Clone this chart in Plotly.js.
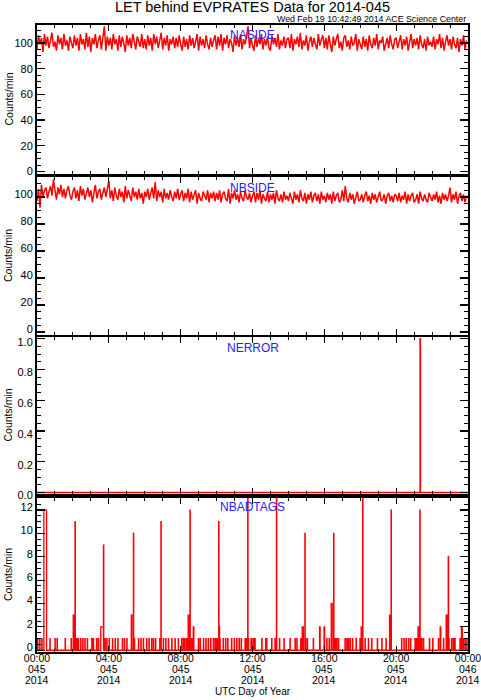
<!DOCTYPE html>
<html>
<head>
<meta charset="utf-8">
<script src="https://cdn.plot.ly/plotly-3.0.1.min.js"></script>
<style>html,body{margin:0;padding:0;background:#fff;}#chart{width:481px;height:700px;}</style>
</head>
<body>
<div id="chart"></div>
<script>
// ---- data (minutes after 00:00 UTC, DOY 045 2014) ----
const sampleStepMinutes = 5;
const nasideCounts = [
95,106,99,104,93,107,98,105,96,103,108,97,101,94,106,99,104,95,107,98,102,94,105,100,
96,106,98,104,94,107,99,103,95,108,97,105,93,104,99,107,96,102,106,95,103,113,94,105,
98,104,95,107,99,103,94,106,97,105,100,93,106,98,104,96,107,99,95,105,101,97,107,96,
103,95,106,98,104,94,107,99,105,96,102,108,95,104,98,106,94,103,99,105,96,104,97,106,
99,94,105,97,103,95,106,98,104,96,101,107,94,105,98,103,96,106,99,95,104,97,102,106,
95,105,98,107,94,104,99,106,96,103,100,93,106,98,104,97,107,95,103,99,105,113,96,104,
98,94,106,97,104,99,107,95,103,98,105,96,94,106,99,104,97,107,95,102,98,105,96,103,
104,96,107,94,103,99,105,97,108,95,102,98,106,94,101,105,97,104,99,95,107,98,103,106,
96,104,95,106,99,93,105,98,103,107,96,101,94,104,106,97,102,95,105,98,100,107,94,103,
99,95,105,97,103,94,106,99,96,104,98,107,95,102,100,105,94,98,104,96,106,99,95,103,
104,96,101,106,95,103,98,105,94,100,107,96,103,98,104,95,106,99,96,103,94,105,98,101,
97,105,95,103,99,107,96,104,94,101,106,98,103,95,105,99,96,104,93,103,98,106,95,102
];
const nbsideCounts = [
97,106,92,109,100,105,107,99,104,108,101,113,105,98,107,102,109,100,106,99,105,108,101,98,
104,107,99,105,97,108,101,106,98,104,107,100,105,96,103,109,99,104,106,98,103,107,100,105,
112,99,105,97,107,101,98,106,100,104,96,108,99,105,101,97,107,100,104,98,106,99,103,95,
104,100,106,98,103,107,99,111,97,105,100,104,96,106,99,103,98,105,100,97,104,99,106,98,
102,105,97,103,99,106,96,104,98,102,105,95,103,99,97,104,100,98,105,96,103,99,104,97,
103,98,105,96,102,104,99,97,106,95,103,99,105,98,102,96,104,99,97,105,100,98,103,96,
101,104,96,103,98,105,95,102,99,97,104,96,102,98,103,95,105,99,97,102,96,104,98,101,
97,103,99,95,104,98,102,96,105,99,97,103,95,102,98,104,96,101,103,97,102,95,104,98,
101,96,103,98,102,95,104,97,101,103,96,98,105,97,108,99,96,103,98,102,95,101,104,97,
98,102,96,101,104,97,101,95,103,98,102,96,101,104,97,98,102,95,101,103,97,101,96,102,
101,97,103,96,101,98,104,95,102,97,101,103,96,98,102,95,104,99,97,102,98,96,103,99,
97,102,98,104,96,101,95,103,98,102,97,101,107,96,102,98,104,95,101,103,97,102,96,101
];
// NERROR: step changes (minute, level)
const errorTimes  = [0, 1280, 1281, 1440];
const errorLevels = [0, 1, 0, 0];
// NBADTAGS: [start minute, duration minutes, count]
const badTagEvents = [
[2,1,1],[9,1,1],[16,1,1],[23,9,12],[43,1,1],[60,1,1],[67,1,1],[94,1,1],[114,1,1],[121,2,3],
[127,1,11],[129,1,1],[133,1,1],[138,1,1],[146,1,1],[153,1,1],[160,1,1],[168,1,1],[183,1,1],[188,1,1],
[199,1,1],[205,1,1],[213,9,2],[222,1,9],[224,2,1],[227,1,1],[233,1,1],[241,1,1],[252,1,1],[261,1,1],
[270,1,1],[285,1,1],[292,1,1],[300,1,1],[315,2,3],[322,1,10],[325,1,1],[339,1,1],[347,1,1],[355,1,1],
[366,1,1],[374,1,1],[383,1,1],[389,1,1],[396,1,1],[410,1,1],[414,1,11],[422,1,1],[430,1,1],[439,1,1],
[450,1,1],[461,1,1],[472,1,1],[483,1,1],[489,1,1],[494,1,1],[500,1,1],[505,2,3],[511,1,12],[514,1,1],
[517,1,1],[522,2,2],[539,1,1],[545,1,1],[556,1,1],[564,1,1],[572,1,1],[580,1,1],[589,1,1],[595,1,1],
[600,1,1],[604,1,1],[607,1,11],[609,1,2],[611,1,1],[622,1,1],[630,1,1],[637,1,1],[650,1,1],[659,1,1],
[667,1,1],[675,1,1],[682,1,1],[695,1,1],[700,1,1],[704,1,15],[706,1,1],[715,1,1],[717,1,1],[723,1,1],
[728,1,1],[751,1,1],[764,1,1],[767,1,1],[784,1,1],[795,1,1],[800,1,15],[810,1,1],[825,1,1],[845,1,1],
[862,1,1],[868,1,1],[881,1,1],[886,4,2],[895,1,10],[897,1,1],[903,1,1],[923,1,1],[944,2,2],[959,2,2],
[968,1,1],[976,1,1],[983,3,4],[991,1,10],[993,1,1],[996,1,1],[1001,1,1],[1007,1,1],[1029,1,1],[1035,1,1],
[1040,1,1],[1046,1,1],[1054,1,1],[1066,1,1],[1079,1,1],[1083,3,2],[1088,1,15],[1096,1,1],[1107,1,1],[1118,1,1],
[1137,1,1],[1152,1,1],[1166,1,1],[1178,3,3],[1183,1,12],[1218,1,1],[1226,1,1],[1233,1,1],[1241,1,1],[1248,1,1],
[1263,1,1],[1268,1,1],[1273,3,2],[1279,1,12],[1282,1,1],[1285,1,1],[1291,1,1],[1311,1,1],[1322,1,1],[1341,1,1],
[1347,2,2],[1358,1,1],[1367,3,3],[1374,1,8],[1376,1,1],[1385,1,1],[1391,1,1],[1396,1,1],[1413,1,1],[1418,3,2],
[1424,1,1],[1430,1,1],[1436,1,1]
];
const tickMinutes = [0, 240, 480, 720, 960, 1200, 1440];
const timeLabels  = ['00:00','04:00','08:00','12:00','16:00','20:00','00:00'];
const dayLabels   = ['045','045','045','045','045','045','046'];
const yearLabels  = ['2014','2014','2014','2014','2014','2014','2014'];
const panelNames  = ['NASIDE','NBSIDE','NERROR','NBADTAGS'];
const chartTitle  = 'LET behind EVPRATES Data for 2014-045';
const stampText   = 'Wed Feb 19 10:42:49 2014 ACE Science Center';
const yTitle      = 'Counts/min';
const xTitle      = 'UTC Day of Year';

// ---- build traces ----
const RED = '#ff0000';
const sampleMinutes = nasideCounts.map((_, i) => i * sampleStepMinutes);
const tagX = [0], tagY = [0];
badTagEvents.forEach(([s, d, v]) => { tagX.push(s, s + d); tagY.push(v, 0); });
tagX.push(1440); tagY.push(0);

const traces = [
  {x: sampleMinutes, y: nasideCounts, xaxis:'x', yaxis:'y', type:'scatter', mode:'lines', line:{color:RED, width:1.5}},
  {x: sampleMinutes, y: nbsideCounts, xaxis:'x2', yaxis:'y2', type:'scatter', mode:'lines', line:{color:RED, width:1.5}},
  {x: errorTimes, y: errorLevels, xaxis:'x3', yaxis:'y3', type:'scatter', mode:'lines', line:{color:RED, width:1.5, shape:'hv'}},
  {x: tagX, y: tagY, xaxis:'x4', yaxis:'y4', type:'scatter', mode:'lines', line:{color:RED, width:1.3, shape:'hv'}}
];

// ---- layout ----
const FONT = 'Liberation Sans, Arial, Helvetica, sans-serif';
const PLOT_TOP = 25, PLOT_BOT = 652, PLOT_H = PLOT_BOT - PLOT_TOP;
const py = (px) => (PLOT_BOT - px) / PLOT_H;   // pixel row -> paper y
const panels = [[25,174],[177,335],[337,494],[498,652]];

function xAxis(anchor, showLabels) {
  return {
    anchor: anchor, range:[0,1440], tickmode:'array', tickvals: tickMinutes, ticktext: timeLabels,
    showticklabels: showLabels, ticks:'inside', ticklen:6, tickwidth:1.2, tickcolor:'black',
    ticklabelstandoff:-5, ticklabeloverflow:'allow',
    showline:true, linecolor:'black', linewidth:2, mirror:'allticks', showgrid:false, zeroline:false,
    tickfont:{size:10.5, color:'black', family:FONT},
    minor:{tickmode:'linear', tick0:0, dtick:60, ticks:'inside', ticklen:3, tickwidth:1, tickcolor:'black', showgrid:false},
    fixedrange:true
  };
}
function yAxis(idx, range, dtick, minor, fmt, shift) {
  const p = panels[idx];
  return {
    domain:[py(p[1]), py(p[0])], range: range, tickmode:'linear', tick0:0, dtick: dtick, tickformat: fmt,
    ticks:'inside', ticklen:8, tickwidth:1.2, tickcolor:'black', ticklabelshift: shift,
    showline:true, linecolor:'black', linewidth:2, mirror:'allticks', showgrid:false, zeroline:false,
    tickfont:{size:11, color:'black', family:FONT},
    minor:{tickmode:'linear', tick0:0, dtick:minor, ticks:'inside', ticklen:4, tickwidth:1, tickcolor:'black', showgrid:false},
    fixedrange:true
  };
}

const annotations = [];
// panel names
const nameRows = [35, 188, 348, 507];
panelNames.forEach((n, i) => annotations.push({
  text:n, xref:'paper', yref:'paper', x:0.5, y:py(nameRows[i]), xanchor:'center', yanchor:'middle',
  showarrow:false, font:{size:12, color:'#2323ff', family:FONT}
}));
// y titles
panels.forEach((p) => annotations.push({
  text:yTitle, xref:'paper', yref:'paper', x:(8-37)/431, y:py((p[0]+p[1])/2), xanchor:'center', yanchor:'middle',
  textangle:-90, showarrow:false, font:{size:10.5, color:'black', family:FONT}
}));
// second and third rows of the x tick labels
tickMinutes.forEach((m, i) => {
  annotations.push({text:dayLabels[i], xref:'x4', yref:'paper', x:m, y:py(669), xanchor:'center', yanchor:'middle',
    showarrow:false, font:{size:10.5, color:'black', family:FONT}});
  annotations.push({text:yearLabels[i], xref:'x4', yref:'paper', x:m, y:py(680), xanchor:'center', yanchor:'middle',
    showarrow:false, font:{size:10.5, color:'black', family:FONT}});
});
// x title
annotations.push({text:xTitle, xref:'paper', yref:'paper', x:0.5, y:py(691), xanchor:'center', yanchor:'middle',
  showarrow:false, font:{size:10, color:'black', family:FONT}});
// timestamp
annotations.push({text:stampText, xref:'paper', yref:'paper', x:1, y:py(19), xanchor:'right', yanchor:'middle',
  showarrow:false, font:{size:8.8, color:'black', family:FONT}});

const layout = {
  width:481, height:700, autosize:false,
  margin:{l:37, r:13, t:PLOT_TOP, b:700-PLOT_BOT, pad:0},
  paper_bgcolor:'white', plot_bgcolor:'white', showlegend:false,
  font:{family:FONT, color:'black', size:10},
  title:{text:chartTitle, xref:'paper', x:0.5, xanchor:'center', yref:'container', y:1-7/700, yanchor:'middle',
         font:{size:14.5, color:'black', family:FONT}},
  xaxis: xAxis('y', false),
  xaxis2: xAxis('y2', false),
  xaxis3: xAxis('y3', false),
  xaxis4: xAxis('y4', true),
  yaxis:  yAxis(0, [-2, 114], 20, 5, '', 0),
  yaxis2: yAxis(1, [-2.2, 114.8], 20, 5, '', -3),
  yaxis3: yAxis(2, [-0.01, 1.012], 0.2, 0.05, '.1f', 3),
  yaxis4: yAxis(3, [-0.15, 13.03], 2, 0.5, '', -3),
  annotations: annotations
};

Plotly.newPlot('chart', traces, layout, {displayModeBar:false, staticPlot:true});
</script>
</body>
</html>
